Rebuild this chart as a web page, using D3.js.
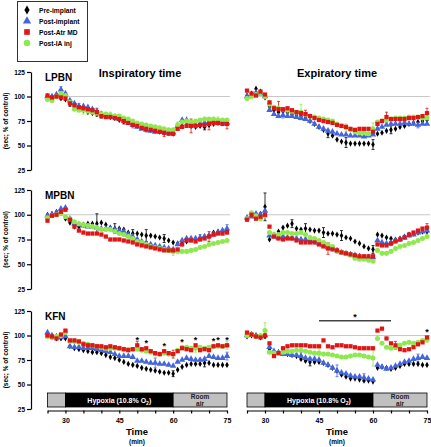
<!DOCTYPE html>
<html><head><meta charset="utf-8">
<script src="https://cdn.jsdelivr.net/npm/d3@7"></script>
<style>body{margin:0;background:#fff}text{font-family:Arial,"Liberation Sans",sans-serif;font-weight:bold}</style>
</head><body>
<script>
// ---------- data ----------
const times = [25,26.25,27.5,28.75,30,31.25,32.5,33.75,35,36.25,37.5,38.75,40,41.25,42.5,43.75,45,46.25,47.5,48.75,50,51.25,52.5,53.75,55,56.25,57.5,58.75,60,61.25,62.5,63.75,65,66.25,67.5,68.75,70,71.25,72.5,73.75,75];
const seriesNames = ["Pre-implant","Post-implant","Post-Atr MD","Post-IA inj"];
const nuclei = ["LPBN","MPBN","KFN"];
const columnTitles = ["Inspiratory time","Expiratory time"];
const yTicks = [25,50,75,100,125];
const xTicks = [25,30,35,40,45,50,55,60,65,70,75];
const xTickLabels = [30,45,60,75];
const phases = [{from:25,to:30,label:""},{from:30,to:60,label:"Hypoxia"},{from:60,to:75,label:"Room air"}];

// LPBN inspiratory
const lpbnTiPre  = [100,99,100,98,97,93,90,88,86,84,83,82,81,80,79,78,76,75,74,72,70,69,67,66,65,64,63,63,62,68,70,71,70,69,70,69,71,72,73,73,73];
const lpbnTiPost = [100,100,102,107,103,96,93,90,90,89,87,85,82,81,80,79,77,75,73,71,69,67,66,65,64,65,64,63,63,70,76,76,73,71,72,73,74,74,73,74,73];
const lpbnTiAtr  = [101,99,100,99,98,93,91,89,88,87,86,84,80,79,79,78,77,75,73,71,70,68,67,66,65,64,63,62,62,67,69,70,70,70,71,71,72,73,73,72,72];
const lpbnTiIA   = [97,96,100,103,101,94,87,86,86,85,84,83,82,82,81,80,80,78,77,75,73,72,71,70,69,68,67,66,66,71,74,75,74,75,76,77,77,77,76,76,76];
// LPBN expiratory
const lpbnTePre  = [101,103,108,105,99,90,86,84,85,84,82,81,80,78,75,72,69,66,62,60,56,54,53,52,52,52,52,52,51,62,63,65,66,67,69,70,72,73,74,75,76];
const lpbnTePost = [100,101,104,103,100,86,82,80,81,80,80,79,78,77,75,72,69,67,65,64,62,61,61,60,60,60,59,60,61,67,69,71,72,72,72,73,72,72,71,72,72];
const lpbnTeAtr  = [106,103,101,105,102,94,88,87,87,88,86,84,83,82,80,78,76,75,74,73,71,70,69,67,66,67,67,67,64,72,75,79,77,77,77,77,78,78,79,80,83];
const lpbnTeIA   = [98,100,102,104,100,92,89,88,87,86,85,84,84,82,80,79,78,77,76,75,72,70,68,66,64,63,63,62,67,74,75,76,77,78,78,78,79,79,79,78,78];
// MPBN inspiratory
const mpbnTiPre  = [100,101,103,104,96,92,88,88,90,91,91,91,92,90,87,86,86,85,82,81,81,80,79,79,78,77,76,74,72,71,71,73,75,75,76,78,79,82,83,84,84];
const mpbnTiPost = [99,100,102,106,107,96,91,90,89,88,88,87,86,86,86,85,84,83,80,78,75,73,71,70,69,68,67,66,65,70,74,76,76,76,77,78,79,80,82,84,86];
const mpbnTiAtr  = [94,99,100,103,105,95,88,84,82,81,81,81,80,78,75,75,75,74,73,72,70,69,68,67,66,65,64,64,64,65,70,74,74,73,75,76,78,80,81,81,82];
const mpbnTiIA   = [97,99,100,101,98,96,93,91,90,89,88,87,85,85,85,83,81,80,78,76,73,72,70,68,67,66,65,64,63,63,63,63,64,65,67,68,70,71,72,73,74];
// MPBN expiratory
const mpbnTePre  = [96,100,98,101,108,75,80,83,87,89,91,86,85,86,85,84,84,82,81,81,80,79,77,76,73,71,68,66,65,80,79,77,76,75,76,78,80,81,82,83,83];
const mpbnTePost = [97,98,101,100,104,79,78,77,78,77,76,76,75,75,74,73,71,69,67,66,64,62,61,60,59,58,57,57,57,74,72,71,72,74,75,77,79,80,82,83,84];
const mpbnTeAtr  = [95,100,96,98,100,88,78,76,75,76,76,74,72,72,72,72,70,68,66,65,64,62,61,60,59,58,58,58,58,70,69,69,71,73,75,77,80,82,84,86,87];
const mpbnTeIA   = [96,102,99,96,99,82,80,80,82,82,81,81,82,80,77,76,74,72,70,68,63,62,61,59,56,55,55,54,53,64,61,61,63,66,68,69,71,72,74,76,78];
// KFN inspiratory
const kfnTiPre  = [100,98,97,97,97,89,87,86,85,84,83,83,82,80,78,77,75,73,71,70,69,67,66,65,64,63,62,62,61,65,68,70,71,71,71,72,72,70,70,70,70];
const kfnTiPost = [103,100,99,98,99,89,88,88,87,87,87,86,85,84,83,81,79,79,79,78,74,74,73,72,72,71,71,70,69,73,75,77,76,75,75,76,79,78,77,77,79];
const kfnTiAtr  = [100,99,97,101,105,95,95,94,91,90,90,89,89,88,89,88,87,86,85,86,90,86,87,84,82,81,84,82,81,84,87,86,85,90,85,86,85,89,90,89,90];
const kfnTiIA   = [99,98,99,100,103,94,94,93,92,91,90,89,88,87,87,87,87,86,86,86,86,85,84,83,81,81,82,81,81,85,88,88,87,87,88,87,88,89,89,89,90];
// KFN expiratory
const kfnTePre  = [99,100,99,98,99,85,83,83,82,81,80,79,76,74,73,73,73,72,70,67,64,60,58,56,56,55,54,54,53,67,68,67,66,67,69,71,71,71,71,70,70];
const kfnTePost = [100,101,100,99,100,88,84,82,81,81,80,80,79,77,76,76,75,72,70,67,64,62,61,59,58,58,57,56,55,70,68,66,67,69,71,73,74,76,77,78,77];
const kfnTeAtr  = [103,101,99,98,100,92,79,82,87,89,90,90,90,90,89,89,89,95,89,88,90,90,89,89,88,87,87,87,87,105,107,97,92,90,86,85,86,88,91,93,98];
const kfnTeIA   = [100,101,99,100,105,83,82,82,83,84,84,85,85,84,83,82,82,81,81,80,79,78,78,79,80,80,79,78,77,97,92,88,87,88,90,92,93,92,93,95,96];

// error bars: [panel, series, time index, SE]
const errorBars = [
 [0,3,3,4],[0,1,3,3],[0,0,5,3],[0,1,7,3],[0,3,8,4],[0,2,11,4],[0,0,12,3],[0,3,14,3],[0,0,17,3],[0,1,19,3],[0,0,22,3],[0,2,26,4],[0,3,29,3],[0,2,32,7],[0,0,35,3],[0,2,36,6],[0,3,38,3],[0,2,40,5],
 [1,2,7,8],[1,3,5,4],[1,1,8,3],[1,3,12,8],[1,2,13,4],[1,0,18,4],[1,0,22,5],[1,3,22,4],[1,0,28,5],[1,3,28,6],[1,2,31,5],[1,0,32,4],[1,1,38,3],[1,2,40,5],
 [2,0,11,10],[2,0,15,5],[2,0,19,4],[2,0,22,6],[2,0,26,4],[2,3,28,4],[2,1,34,3],[2,2,36,5],[2,1,40,4],
 [3,0,4,14],[3,0,10,4],[3,0,13,5],[3,0,17,5],[3,0,21,5],[3,2,18,6],[3,0,28,4],[3,1,32,3],[3,2,40,4],
 [4,2,20,4],[4,1,24,5],[4,0,28,3],[4,2,28,4],[4,3,33,4],[4,0,35,4],[4,1,40,4],[4,3,40,4],
 [5,3,4,8],[5,1,12,4],[5,0,14,4],[5,3,16,6],[5,1,20,6],[5,3,28,8],[5,1,26,4],[5,2,33,4],[5,1,38,4],[5,3,40,3]
];
// significance asterisks (time indices) per panel
const kfnTiStars = [20,22,26,30,33,37,38,40];
const kfnTeStars = [40];
const kfnTeBar = {from:45, to:65, level:115};

const panelData = [
  [lpbnTiPre,lpbnTiPost,lpbnTiAtr,lpbnTiIA],
  [lpbnTePre,lpbnTePost,lpbnTeAtr,lpbnTeIA],
  [mpbnTiPre,mpbnTiPost,mpbnTiAtr,mpbnTiIA],
  [mpbnTePre,mpbnTePost,mpbnTeAtr,mpbnTeIA],
  [kfnTiPre,kfnTiPost,kfnTiAtr,kfnTiIA],
  [kfnTePre,kfnTePost,kfnTeAtr,kfnTeIA]
];

// ---------- styles / layout ----------
const colors = ["#000000","#4466dd","#e01515","#8fe84f"];
const symbols = [d3.symbolDiamond, d3.symbolTriangle, d3.symbolSquare, d3.symbolCircle];
const symSizes = [11, 18, 18, 20];
const legendSizes = [24, 30, 32, 34];
const drawOrder = [0,1,3,2];
const cols = [{x0:47.5,x1:227},{x0:247,x1:427}];
const rows = [{top:72,bottom:170},{top:190,bottom:289},{top:311,bottom:409}];

const svg = d3.select("body").append("svg").attr("width",431).attr("height",447);

// legend
const lg = svg.append("g");
lg.append("rect").attr("x",17.5).attr("y",1.5).attr("width",70).attr("height",60).attr("fill","#fff").attr("stroke","#333").attr("stroke-width",1);
seriesNames.forEach((n,i)=>{
  const yy = 10 + i*11;
  lg.append("path").attr("d",d3.symbol(symbols[i], legendSizes[i])()).attr("transform",`translate(27,${yy})`).attr("fill",colors[i]);
  lg.append("text").attr("x",39).attr("y",yy+2.5).attr("font-size",6.7).text(n);
});

// column titles
columnTitles.forEach((t,c)=>{
  svg.append("text").attr("x",[140,337][c]).attr("y",77).attr("text-anchor","middle").attr("font-size",11).text(t);
});

const yScales = rows.map(r=>d3.scaleLinear().domain([25,125]).range([r.bottom,r.top]));
const xScales = cols.map(c=>d3.scaleLinear().domain([25,75]).range([c.x0,c.x1]));

rows.forEach((r,ri)=>{
  const y = yScales[ri];
  const ya = svg.append("g").attr("transform","translate(31,0)")
    .call(d3.axisLeft(y).tickValues(yTicks).tickSize(4).tickSizeOuter(0).tickPadding(2));
  ya.selectAll("text").attr("font-size",6.5).attr("font-weight","bold");
  ya.selectAll("path,line").attr("stroke","#000").attr("stroke-width",1.2);
  svg.append("text").attr("transform",`translate(8,${y(75)}) rotate(-90)`).attr("text-anchor","middle")
    .attr("font-size",6.5).text("(sec; % of control)");
  svg.append("text").attr("x",45).attr("y",r.top+9).attr("font-size",10).text(nuclei[ri]);

  cols.forEach((c,ci)=>{
    const x = xScales[ci];
    const p = ri*2+ci;
    const g = svg.append("g");
    g.append("line").attr("x1",x(25)).attr("x2",x(75)+3).attr("y1",y(100)).attr("y2",y(100)).attr("stroke","#c8c8c8").attr("stroke-width",1);
    errorBars.filter(e=>e[0]===p).forEach(([pp,s,idx,e])=>{
      const xx = x(times[idx]), v = panelData[p][s][idx];
      g.append("line").attr("x1",xx).attr("x2",xx).attr("y1",y(v-e)).attr("y2",y(v+e)).attr("stroke",colors[s]).attr("stroke-width",0.8);
      [v-e,v+e].forEach(w=>g.append("line").attr("x1",xx-1.5).attr("x2",xx+1.5).attr("y1",y(w)).attr("y2",y(w)).attr("stroke",colors[s]).attr("stroke-width",0.8));
    });
    drawOrder.forEach(s=>{
      g.selectAll(null).data(panelData[p][s].map((v,i)=>({t:times[i],v}))).join("path")
        .attr("d",d3.symbol(symbols[s],symSizes[s])())
        .attr("transform",d=>`translate(${x(d.t)},${y(d.v)})`)
        .attr("fill",colors[s]);
    });
    const stars = p===4?kfnTiStars:p===5?kfnTeStars:[];
    stars.forEach(idx=>{
      const top = d3.max(panelData[p],arr=>arr[idx]);
      g.append("text").attr("x",x(times[idx])).attr("y",y(top)-2.5).attr("text-anchor","middle").attr("font-size",9).text("*");
    });
    if(p===5){
      g.append("line").attr("x1",x(kfnTeBar.from)).attr("x2",x(kfnTeBar.to)).attr("y1",y(kfnTeBar.level)).attr("y2",y(kfnTeBar.level)).attr("stroke","#444").attr("stroke-width",1.6);
      g.append("text").attr("x",x((kfnTeBar.from+kfnTeBar.to)/2)).attr("y",y(kfnTeBar.level)-1).attr("text-anchor","middle").attr("font-size",9).text("*");
    }
    if(ri===2){
      const by0 = r.bottom-16, bh = 14;
      phases.forEach(ph=>{
        g.append("rect").attr("x",x(ph.from)).attr("y",by0).attr("width",x(ph.to)-x(ph.from)).attr("height",bh)
          .attr("fill",ph.label==="Hypoxia"?"#000":"#c0c0c0").attr("stroke","#000").attr("stroke-width",0.8);
      });
      const ht = g.append("text").attr("x",x(45)).attr("y",by0+9.5).attr("text-anchor","middle").attr("font-size",7).attr("fill","#fff");
      ht.append("tspan").text("Hypoxia (10.8% O");
      ht.append("tspan").attr("font-size",5).attr("dy",2).text("2");
      ht.append("tspan").attr("dy",-2).text(")");
      g.append("text").attr("x",x(67.5)).attr("y",by0+5.5).attr("text-anchor","middle").attr("font-size",6.5).attr("fill","#222").text("Room");
      g.append("text").attr("x",x(67.5)).attr("y",by0+12.5).attr("text-anchor","middle").attr("font-size",6.5).attr("fill","#222").text("air");
      const xa = g.append("g").attr("transform",`translate(0,${r.bottom+1.5})`)
        .call(d3.axisBottom(x).tickValues(xTicks).tickSize(3).tickSizeOuter(0).tickPadding(5)
          .tickFormat(d=>xTickLabels.includes(d)?d:""));
      xa.selectAll("text").attr("font-size",7).attr("font-weight","bold");
      xa.selectAll("path,line").attr("stroke","#000").attr("stroke-width",1.2);
      g.append("text").attr("x",[137,337][ci]).attr("y",435).attr("text-anchor","middle").attr("font-size",9.5).text("Time");
      g.append("text").attr("x",[137,337][ci]).attr("y",444).attr("text-anchor","middle").attr("font-size",6.5).text("(min)");
    }
  });
});
</script>
</body></html>
